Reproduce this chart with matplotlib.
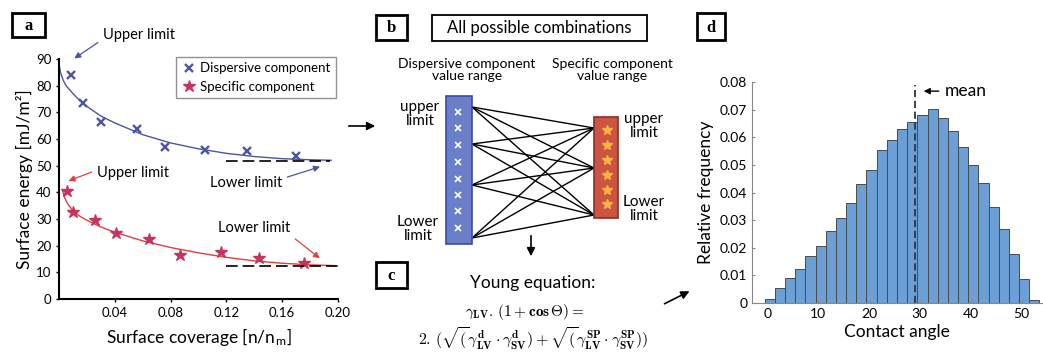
import matplotlib
matplotlib.use("Agg")
import matplotlib.pyplot as plt
import numpy as np
from matplotlib.patches import Rectangle

plt.rcParams['font.family'] = ['Lato', 'DejaVu Sans']
plt.rcParams['mathtext.fontset'] = 'cm'

# panel a: surface energy vs coverage
disp_x = [0.0084, 0.0175, 0.030, 0.0558, 0.076, 0.1044, 0.1349, 0.170]
disp_y = [84.0, 73.3, 66.2, 63.8, 56.8, 55.8, 55.6, 53.7]
spec_x = [0.0055, 0.0098, 0.026, 0.041, 0.0647, 0.087, 0.1164, 0.1437, 0.1758]
spec_y = [40.5, 32.6, 29.5, 24.6, 22.4, 16.5, 17.5, 15.5, 13.5]
# fitted curves
disp_fit_x = [0.0, 0.001, 0.003, 0.005, 0.01, 0.015, 0.02, 0.03, 0.04, 0.06, 0.08, 0.10, 0.12, 0.14, 0.16, 0.18, 0.195]
disp_fit_y = [88.0, 85.0, 82.0, 80.0, 77.0, 74.3, 72.2, 68.6, 66.0, 61.6, 58.5, 56.3, 54.6, 53.4, 52.6, 52.2, 52.0]
spec_fit_x = [0.0024, 0.004, 0.006, 0.01, 0.015, 0.02, 0.03, 0.04, 0.06, 0.08, 0.10, 0.12, 0.14, 0.16, 0.18, 0.198]
spec_fit_y = [40.9, 38.0, 35.8, 33.0, 31.0, 29.5, 27.0, 25.0, 21.8, 19.3, 17.3, 15.6, 14.3, 13.4, 12.8, 12.5]
disp_lower = 51.8
spec_lower = 12.5

# panel d: contact angle histogram
angle_edges = np.arange(-0.5, 54, 2)
rel_freq = [0.0016, 0.0055, 0.009, 0.0125, 0.0171, 0.0208, 0.026, 0.0309, 0.0361,
            0.0431, 0.048, 0.0553, 0.0591, 0.0629, 0.0657, 0.0682, 0.0703, 0.0669,
            0.0624, 0.0564, 0.0501, 0.0433, 0.0347, 0.0267, 0.0177, 0.0087, 0.001]
mean_angle = 29.1

blue = '#4b55a6'
crimson = '#c8325f'
red = '#e0403c'

fig = plt.figure(figsize=(10.43, 3.52), dpi=100)

# ---------- panel a
ax = fig.add_axes([0.0566, 0.1506, 0.2675, 0.682])
ax.plot(disp_fit_x, disp_fit_y, '-', color=blue, lw=1.0)
ax.plot(spec_fit_x, spec_fit_y, '-', color=red, lw=1.0)
ax.plot(disp_x, disp_y, 'x', color=blue, ms=6, mew=1.7, label='Dispersive component')
ax.plot(spec_x, spec_y, '*', color=crimson, ms=9, label='Specific component')
ax.plot([0.12, 0.194], [disp_lower, disp_lower], color='k', lw=1.2, ls=(0, (7, 3)))
ax.plot([0.12, 0.20], [spec_lower, spec_lower], color='k', lw=1.2, ls=(0, (7, 3)), clip_on=False)
ax.set_xlim(0, 0.20)
ax.set_ylim(0, 90)
ax.set_xticks([0.04, 0.08, 0.12, 0.16, 0.20])
ax.set_xticklabels(['0.04', '0.08', '0.12', '0.16', '0.20'])
ax.set_yticks(range(0, 91, 10))
ax.tick_params(labelsize=9.5, length=2, width=1)
for s in ['top', 'right']:
    ax.spines[s].set_visible(False)
for s in ['left', 'bottom']:
    ax.spines[s].set_linewidth(1.5)
ax.set_xlabel('Surface coverage [n/n$_\\mathregular{m}$]', fontsize=12.5, labelpad=5)
ax.set_ylabel('Surface energy [mJ/m²]', fontsize=12.5, labelpad=2)
leg = ax.legend(loc='upper right', bbox_to_anchor=(1.015, 1.035), fontsize=9.5,
                fancybox=False, edgecolor='#777777', handletextpad=0.2,
                borderpad=0.4, handlelength=1.2, labelspacing=0.5)
leg.get_frame().set_linewidth(1.0)

arr = dict(arrowstyle='-|>', lw=0.9, mutation_scale=9)
ax.annotate('Upper limit', xy=(0.0093, 89.6), xytext=(0.0315, 99), fontsize=10.5,
            va='center', ha='left', annotation_clip=False,
            arrowprops=dict(arr, color=blue, relpos=(0, 0.2)))
ax.annotate('Upper limit', xy=(0.005, 43.9), xytext=(0.0272, 47.3), fontsize=10.5,
            va='center', ha='left', annotation_clip=False,
            arrowprops=dict(arr, color=red, relpos=(0, 0.7)))
ax.annotate('Lower limit', xy=(0.189, 49.9), xytext=(0.108, 43.5), fontsize=10.5,
            va='center', ha='left', annotation_clip=False,
            arrowprops=dict(arr, color=blue, relpos=(1, 0.8)))
ax.annotate('Lower limit', xy=(0.1885, 14.6), xytext=(0.114, 26.6), fontsize=10.5,
            va='center', ha='left', annotation_clip=False,
            arrowprops=dict(arr, color=red, relpos=(1, 0.0)))

# ---------- panel d
axd = fig.add_axes([0.721, 0.139, 0.278, 0.628])
axd.bar(angle_edges[:-1], rel_freq, width=2, align='edge', color='#6b9fd6',
        edgecolor='#4a4a4a', lw=0.7)
axd.plot([mean_angle, mean_angle], [0, 0.0788], color='#333333', lw=1.3, ls=(0, (4, 2)))
axd.annotate('mean', xy=(30.2, 0.0767), xytext=(34.8, 0.0767), fontsize=12.5,
             va='center', ha='left',
             arrowprops=dict(arrowstyle='-|>', lw=1.0, color='k', mutation_scale=9))
axd.set_xlim(-3, 54)
axd.set_ylim(0, 0.08)
axd.set_xticks([0, 10, 20, 30, 40, 50])
axd.set_yticks([0, 0.01, 0.02, 0.03, 0.04, 0.05, 0.06, 0.07, 0.08])
axd.set_yticklabels(['0', '0.01', '0.02', '0.03', '0.04', '0.05', '0.06', '0.07', '0.08'])
axd.tick_params(labelsize=10, length=2, direction='in', color='#888888')
for s in ['top', 'right']:
    axd.spines[s].set_visible(False)
for s in ['left', 'bottom']:
    axd.spines[s].set_color('#888888')
axd.set_xlabel('Contact angle', fontsize=12.5, labelpad=3)
axd.set_ylabel('Relative frequency', fontsize=12.5, labelpad=4)

# ---------- overlay: diagram (b, c), labels and connecting arrows
ov = fig.add_axes([0, 0, 1, 1], zorder=-1)
ov.set_xlim(0, 1043)
ov.set_ylim(352, 0)
ov.axis('off')

def label_box(x0, y0, x1, y1, letter):
    ov.add_patch(Rectangle((x0, y0), x1 - x0, y1 - y0, fill=False, ec='k', lw=2))
    ov.text((x0 + x1) / 2, (y0 + y1) / 2 + 1, letter, ha='center', va='center',
            fontsize=12, fontweight='bold', family='Liberation Serif')

label_box(12, 13, 45, 37, 'a')
label_box(376, 15, 407, 40, 'b')
label_box(376, 262, 407, 288, 'c')
label_box(697, 13, 725, 40, 'd')

ov.add_patch(Rectangle((432, 15), 215, 26, fill=False, ec='k', lw=1.3))
ov.text(539.5, 28, 'All possible combinations', ha='center', va='center', fontsize=12)

ov.text(467, 70, 'Dispersive component\nvalue range', ha='center', va='center',
        fontsize=10, linespacing=1.0)
ov.text(612, 70, 'Specific component\nvalue range', ha='center', va='center',
        fontsize=10, linespacing=1.0)

# value range bars
ov.add_patch(Rectangle((446, 96), 26, 148, fc='#6a7fc8', ec='#3a4aa8', lw=1.2, zorder=3))
ov.add_patch(Rectangle((594, 117), 24, 101, fc='#cd5442', ec='#8a2e22', lw=1.2, zorder=3))
left_nodes = [107, 144, 185, 238]
right_nodes = [128, 168, 215]
for yl in left_nodes:
    for yr in right_nodes:
        ov.plot([472, 594], [yl, yr], color='k', lw=1.0, zorder=2)
ov.plot([458] * 8, [112, 128, 145, 162, 179, 195, 211, 228], 'x', color='white',
        ms=5, mew=1.2, zorder=4)
ov.plot([607] * 6, [130, 145, 160, 175, 190, 204], '*', color='#f5b342', ms=7, zorder=4)

ov.text(420, 114, 'upper\nlimit', ha='center', va='center', fontsize=11, linespacing=1.05)
ov.text(418, 229, 'Lower\nlimit', ha='center', va='center', fontsize=11, linespacing=1.05)
ov.text(644, 126, 'upper\nlimit', ha='center', va='center', fontsize=11, linespacing=1.05)
ov.text(644, 209, 'Lower\nlimit', ha='center', va='center', fontsize=11, linespacing=1.05)

ov.text(533, 283, 'Young equation:', ha='center', va='center', fontsize=12.5)
ov.text(525, 312, r'$\gamma_{\mathbf{LV}}.\,(\mathbf{1}+\mathbf{cos}\,\Theta) =$',
        ha='center', va='center', fontsize=11)
ov.text(533, 339, r'$\mathbf{2}.\,(\sqrt{(}\gamma^{\mathbf{d}}_{\mathbf{LV}}\cdot\gamma^{\mathbf{d}}_{\mathbf{SV}})'
        r'+\sqrt{(}\gamma^{\mathbf{SP}}_{\mathbf{LV}}\cdot\gamma^{\mathbf{SP}}_{\mathbf{SV}}))$',
        ha='center', va='center', fontsize=11.5)

blk = dict(arrowstyle='-|>', lw=1.2, color='k', mutation_scale=12)
ov.annotate('', xy=(378, 126), xytext=(346, 126), arrowprops=blk)
ov.annotate('', xy=(531, 259), xytext=(531, 233), arrowprops=blk)
ov.annotate('', xy=(692, 290), xytext=(662, 305), arrowprops=blk)

fig.savefig('out.png', dpi=100)
